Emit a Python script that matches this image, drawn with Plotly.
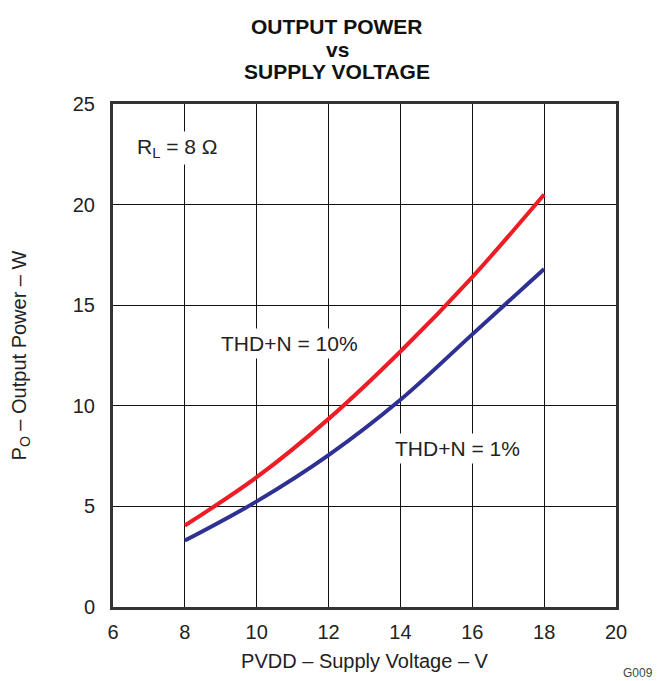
import plotly.graph_objects as go

# Data
pvdd = [8, 10, 12, 14, 16, 18]
po_thd10 = [4.05, 6.45, 9.35, 12.7, 16.4, 20.5]
po_thd1 = [3.3, 5.25, 7.55, 10.3, 13.55, 16.8]

x_ticks = [6, 8, 10, 12, 14, 16, 18, 20]
y_ticks = [0, 5, 10, 15, 20, 25]

title_lines = ["<b>OUTPUT POWER</b>", "<b>vs</b>", "<b>SUPPLY VOLTAGE</b>"]

FONT = "Liberation Sans, Arial, Helvetica, sans-serif"

fig = go.Figure()
fig.add_trace(go.Scatter(x=pvdd, y=po_thd10, mode="lines",
                         line=dict(color="#EE1C25", width=4, shape="spline"),
                         showlegend=False, hoverinfo="skip"))
fig.add_trace(go.Scatter(x=pvdd, y=po_thd1, mode="lines",
                         line=dict(color="#2E3192", width=4, shape="spline"),
                         showlegend=False, hoverinfo="skip"))

fig.update_layout(
    width=655, height=673,
    margin=dict(l=105, r=47, t=96, b=74),
    paper_bgcolor="white", plot_bgcolor="white",
    font=dict(family=FONT, size=20, color="#222222"),
    xaxis=dict(range=[6, 20], tickvals=x_ticks, showgrid=True, automargin=False,
               gridcolor="#111111", gridwidth=1.2, zeroline=False,
               showline=True, linecolor="#333333", linewidth=3, mirror=True,
               ticks="outside", ticklen=5, tickcolor="white",
               title=dict(text="PVDD – Supply Voltage – V", standoff=12,
                          font=dict(size=20)),
               tickfont=dict(size=20)),
    yaxis=dict(range=[0, 25], tickvals=y_ticks, showgrid=True, automargin=False,
               gridcolor="#111111", gridwidth=1.2, zeroline=False,
               showline=True, linecolor="#333333", linewidth=3, mirror=True,
               ticks="outside", ticklen=11, tickcolor="white",
               title=dict(text="P<sub>O</sub> – Output Power – W", standoff=48,
                          font=dict(size=20)),
               tickfont=dict(size=20)),
)

for txt, yy in zip(title_lines, [1.127, 1.082, 1.037]):
    fig.add_annotation(xref="paper", yref="paper", x=0.446, y=yy,
                       xanchor="center", yanchor="bottom", text=txt,
                       showarrow=False, font=dict(size=21, color="#111111"))

fig.add_annotation(x=7.8, y=22.8, text="R<sub>L</sub> = 8 Ω", showarrow=False,
                   bgcolor="white", font=dict(size=21), borderpad=3)
fig.add_annotation(x=10.9, y=13.1, text="THD+N = 10%", showarrow=False,
                   bgcolor="white", font=dict(size=21), borderpad=3)
fig.add_annotation(x=15.6, y=7.9, text="THD+N = 1%", showarrow=False,
                   bgcolor="white", font=dict(size=21), borderpad=3)
fig.add_annotation(xref="paper", yref="paper", x=1.078, y=-0.113,
                   xanchor="right", yanchor="top", text="G009", showarrow=False,
                   font=dict(size=12, color="#444444"))

fig.write_html("out.html")
